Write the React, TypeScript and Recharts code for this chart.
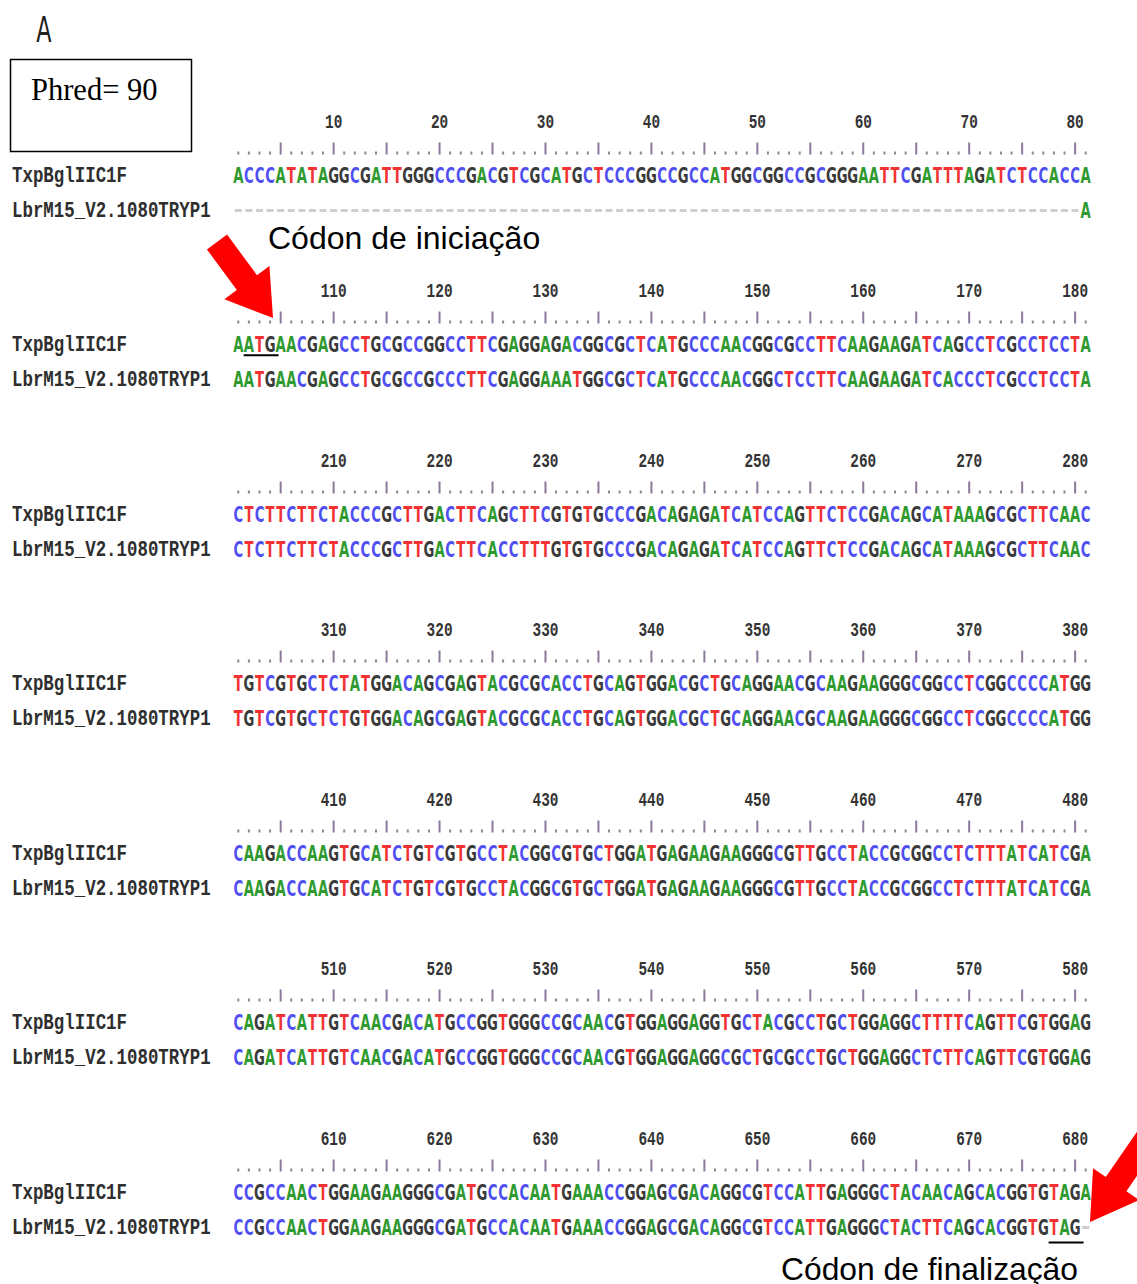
import React from "react";
import { ScatterChart, Scatter, XAxis, YAxis, ReferenceLine } from "recharts";

// block start offsets (numbering jumps by 100 per block)
const blockStarts = [0, 100, 200, 300, 400, 500, 600];
const rulerLabels = [10, 20, 30, 40, 50, 60, 70, 80];
const seqNames = ["TxpBglIIC1F", "LbrM15_V2.1080TRYP1"];

const txpRows = [
  "ACCCATATAGGCGATTGGGCCCGACGTCGCATGCTCCCGGCCGCCATGGCGGCCGCGGGAATTCGATTTAGATCTCCACCA",
  "AATGAACGAGCCTGCGCCGGCCTTCGAGGAGACGGCGCTCATGCCCAACGGCGCCTTCAAGAAGATCAGCCTCGCCTCCTA",
  "CTCTTCTTCTACCCGCTTGACTTCAGCTTCGTGTGCCCGACAGAGATCATCCAGTTCTCCGACAGCATAAAGCGCTTCAAC",
  "TGTCGTGCTCTATGGACAGCGAGTACGCGCACCTGCAGTGGACGCTGCAGGAACGCAAGAAGGGCGGCCTCGGCCCCATGG",
  "CAAGACCAAGTGCATCTGTCGTGCCTACGGCGTGCTGGATGAGAAGAAGGGCGTTGCCTACCGCGGCCTCTTTATCATCGA",
  "CAGATCATTGTCAACGACATGCCGGTGGGCCGCAACGTGGAGGAGGTGCTACGCCTGCTGGAGGCTTTTCAGTTCGTGGAG",
  "CCGCCAACTGGAAGAAGGGCGATGCCACAATGAAACCGGAGCGACAGGCGTCCATTGAGGGCTACAACAGCACGGTGTAGA",
];

const lbrRows = [
  "--------------------------------------------------------------------------------A",
  "AATGAACGAGCCTGCGCCGCCCTTCGAGGAAATGGCGCTCATGCCCAACGGCTCCTTCAAGAAGATCACCCTCGCCTCCTA",
  "CTCTTCTTCTACCCGCTTGACTTCACCTTTGTGTGCCCGACAGAGATCATCCAGTTCTCCGACAGCATAAAGCGCTTCAAC",
  "TGTCGTGCTCTGTGGACAGCGAGTACGCGCACCTGCAGTGGACGCTGCAGGAACGCAAGAAGGGCGGCCTCGGCCCCATGG",
  "CAAGACCAAGTGCATCTGTCGTGCCTACGGCGTGCTGGATGAGAAGAAGGGCGTTGCCTACCGCGGCCTCTTTATCATCGA",
  "CAGATCATTGTCAACGACATGCCGGTGGGCCGCAACGTGGAGGAGGCGCTGCGCCTGCTGGAGGCTCTTCAGTTCGTGGAG",
  "CCGCCAACTGGAAGAAGGGCGATGCCACAATGAAACCGGAGCGACAGGCGTCCATTGAGGGCTACTTCAGCACGGTGTAG-",
];

// codons underlined: [block, row, first, last]
const startCodon = [1, 0, 2, 4];
const stopCodon = [6, 1, 78, 80];

const baseColors: Record<string, string> = {
  A: "#2f9a2f",
  C: "#4f4ff2",
  G: "#3a3a3a",
  T: "#f23232",
};

const ROW_LEN = 81;
const rulerTicks = Array.from({ length: ROW_LEN }, (_, i) => i + 1);

function BaseGlyph(props: any) {
  const { cx, cy, payload } = props;
  if (payload.base === "-") {
    return <rect x={cx - 3.5} y={cy - 1.5} width={7} height={3} fill="#cfcfcf" />;
  }
  return (
    <text
      transform={`translate(${cx},${cy + 7.5}) scale(0.7,1)`}
      textAnchor="middle"
      fontFamily="'DejaVu Sans Condensed','DejaVu Sans',sans-serif"
      fontWeight="bold"
      fontSize={21}
      fill={baseColors[payload.base] || "#999"}
    >
      {payload.base}
    </text>
  );
}

function RulerTick({ x, y, payload }: any) {
  const v = payload.value;
  if (v % 5 === 0) {
    return <rect x={x - 1} y={y - 15.5} width={2} height={12} fill="#8c7a9c" />;
  }
  return <rect x={x - 1} y={y - 6.5} width={2} height={3} fill="#8a8a8a" />;
}

function NameTick({ y, payload }: any) {
  return (
    <text
      transform={`translate(12,${y + 6.5}) scale(0.85,1.05)`}
      fontFamily="'Liberation Mono',monospace"
      fontWeight="bold"
      fontSize={20.5}
      fill="#2e2e2e"
    >
      {seqNames[payload.value]}
    </text>
  );
}

function AlignmentBlock({ k }: { k: number }) {
  const start = blockStarts[k];
  const rows = [txpRows[k], lbrRows[k]].map((s, r) =>
    s.split("").map((base, i) => ({ pos: i + 1, row: r, base }))
  );
  const codons = [startCodon, stopCodon].filter((c) => c[0] === k);

  const NumberTick = ({ x, y, payload }: any) => (
    <text
      transform={`translate(${x},${y - 0.5}) scale(0.8,1.1)`}
      textAnchor="middle"
      fontFamily="'Liberation Mono',monospace"
      fontWeight="bold"
      fontSize={18}
      fill="#333"
    >
      {start + payload.value}
    </text>
  );

  return (
    <ScatterChart
      width={1137}
      height={129}
      margin={{ top: 0, right: 46, left: 0, bottom: 2 }}
    >
      <XAxis
        xAxisId="axA"
        orientation="top"
        type="number"
        dataKey="pos"
        domain={[0.5, ROW_LEN + 0.5]}
        ticks={rulerTicks}
        interval={0}
        height={30}
        tickSize={0}
        tickMargin={0}
        axisLine={false}
        tickLine={false}
        tick={<RulerTick />}
        allowDataOverflow
      />
      <XAxis
        xAxisId="axB"
        orientation="top"
        type="number"
        dataKey="pos"
        domain={[0.5, ROW_LEN + 0.5]}
        ticks={rulerLabels}
        interval={0}
        height={27}
        tickSize={0}
        tickMargin={0}
        axisLine={false}
        tickLine={false}
        tick={<NumberTick />}
        allowDataOverflow
      />
      <YAxis
        yAxisId="seq"
        type="number"
        dataKey="row"
        domain={[-0.5, 1.5]}
        reversed
        ticks={[0, 1]}
        width={233}
        axisLine={false}
        tickLine={false}
        tick={<NameTick />}
      />
      {rows.map((d, r) => (
        <Scatter
          key={r}
          xAxisId="axA"
          yAxisId="seq"
          data={d}
          shape={<BaseGlyph />}
          isAnimationActive={false}
        />
      ))}
      {codons.map((c, i) => (
        <ReferenceLine
          key={i}
          xAxisId="axA"
          yAxisId="seq"
          segment={[
            { x: c[2] - 0.5, y: c[1] + (c[1] === 0 ? 0.31 : 0.43) },
            { x: c[3] + 0.8, y: c[1] + (c[1] === 0 ? 0.31 : 0.43) },
          ]}
          stroke="#000"
          strokeWidth={2}
          ifOverflow="visible"
        />
      ))}
    </ScatterChart>
  );
}

function arrowPoints(tx: number, ty: number, hx: number, hy: number, shaft: number, headW: number, headL: number) {
  const dx = hx - tx;
  const dy = hy - ty;
  const L = Math.hypot(dx, dy);
  const ux = dx / L;
  const uy = dy / L;
  const px = -uy;
  const py = ux;
  const bx = hx - ux * headL;
  const by = hy - uy * headL;
  const pts = [
    [tx + (px * shaft) / 2, ty + (py * shaft) / 2],
    [bx + (px * shaft) / 2, by + (py * shaft) / 2],
    [bx + (px * headW) / 2, by + (py * headW) / 2],
    [hx, hy],
    [bx - (px * headW) / 2, by - (py * headW) / 2],
    [bx - (px * shaft) / 2, by - (py * shaft) / 2],
    [tx - (px * shaft) / 2, ty - (py * shaft) / 2],
  ];
  return pts.map((p) => p.join(",")).join(" ");
}

export default function App() {
  return (
    <div
      style={{
        position: "absolute",
        left: 0,
        top: 0,
        width: 1137,
        height: 1284,
        background: "#fff",
        overflow: "hidden",
      }}
    >
      {blockStarts.map((_, k) => (
        <div key={k} style={{ position: "absolute", left: 0, top: 100.5 + 169.5 * k }}>
          <AlignmentBlock k={k} />
        </div>
      ))}

      <svg
        width={1137}
        height={1284}
        style={{ position: "absolute", left: 0, top: 0, pointerEvents: "none" }}
      >
        <text
          transform="translate(44,42) scale(0.62,1)"
          textAnchor="middle"
          fontFamily="'DejaVu Sans',sans-serif"
          fontSize={36}
          fill="#222"
        >
          A
        </text>
        <rect x={10.5} y={59.5} width={181} height={92} fill="none" stroke="#000" strokeWidth={1.5} />
        <text x={31} y={100} fontFamily="'Liberation Serif',serif" fontSize={30.5} fill="#000">
          Phred= 90
        </text>
        <text x={268} y={249} fontFamily="'Liberation Sans',Arial,sans-serif" fontSize={32} fill="#000">
          Códon de iniciação
        </text>
        <text x={781} y={1280} fontFamily="'Liberation Sans',Arial,sans-serif" fontSize={31.8} fill="#000">
          Códon de finalização
        </text>
        <polygon points={arrowPoints(217, 242, 273, 318, 25, 56, 44)} fill="#ff0000" />
        <polygon points={arrowPoints(1152, 1132, 1090, 1222, 25, 56, 46)} fill="#ff0000" />
      </svg>
    </div>
  );
}
